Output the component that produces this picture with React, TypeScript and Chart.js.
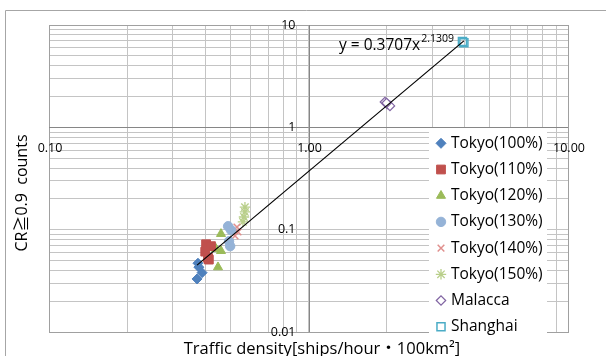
import React, { useEffect, useRef } from 'react';
import { Chart, registerables } from 'chart.js';
import { drawPoint } from 'chart.js/helpers';

Chart.register(...registerables);

// Measured points per scenario: [traffic density, CR>=0.9 counts]
const tokyo100: [number, number][] = [[0.375, 0.047], [0.378, 0.043], [0.389, 0.038], [0.372, 0.033]];
const tokyo110: [number, number][] = [[0.403, 0.072], [0.421, 0.069], [0.4, 0.061], [0.41, 0.053], [0.413, 0.051]];
const tokyo120: [number, number][] = [[0.46, 0.091], [0.44, 0.065], [0.46, 0.062], [0.448, 0.043]];
const tokyo130: [number, number][] = [[0.49, 0.108], [0.503, 0.099], [0.494, 0.077], [0.499, 0.069]];
const tokyo140: [number, number][] = [[0.53, 0.106], [0.535, 0.095], [0.521, 0.087]];
const tokyo150: [number, number][] = [[0.569, 0.166], [0.569, 0.149], [0.564, 0.133], [0.559, 0.119]];
const malacca: [number, number][] = [[1.97, 1.77], [2.01, 1.69], [2.06, 1.62], [2.0, 1.73]];
const shanghai: [number, number][] = [[3.92, 6.9], [3.97, 6.7]];

const seriesNames = ['Tokyo(100%)', 'Tokyo(110%)', 'Tokyo(120%)', 'Tokyo(130%)', 'Tokyo(140%)', 'Tokyo(150%)', 'Malacca', 'Shanghai'];

// Power trend line y = a * x^b
const trendA = 0.3707;
const trendB = 2.1309;

// Axis decades and their labels
const xDecades = [0.1, 1, 10];
const xTickLabels = ['0.10', '1.00', '10.00'];
const yDecades = [0.01, 0.1, 1, 10];
const yTickLabels = ['0.01', '0.1', '1', '10'];
const minorSteps = [1, 2, 3, 4, 5, 6, 7, 8, 9];

const xTitle = 'Traffic density[ships/hour・100km²]';
const yTitle = 'CR≧0.9  counts';

const FONT = "'Open Sans', 'Noto Sans CJK JP', sans-serif";

type MarkerStyle = {
  pointStyle: string;
  radius: number;
  fill: string;
  stroke: string;
  borderWidth: number;
};

const markerStyles: MarkerStyle[] = [
  { pointStyle: 'rectRot', radius: 5, fill: '#4F81BD', stroke: '#4F81BD', borderWidth: 1 },
  { pointStyle: 'rect', radius: 6.2, fill: '#C0504D', stroke: '#C0504D', borderWidth: 1 },
  { pointStyle: 'triangle', radius: 5.2, fill: '#9BBB59', stroke: '#9BBB59', borderWidth: 1 },
  { pointStyle: 'circle', radius: 4.7, fill: '#95B3D7', stroke: '#95B3D7', borderWidth: 1 },
  { pointStyle: 'crossRot', radius: 4.7, fill: 'rgba(0,0,0,0)', stroke: '#E0908E', borderWidth: 1.5 },
  { pointStyle: 'star', radius: 5.2, fill: 'rgba(0,0,0,0)', stroke: '#B9CF8A', borderWidth: 1.3 },
  { pointStyle: 'rectRot', radius: 4.7, fill: '#FFFFFF', stroke: '#8064A2', borderWidth: 1.2 },
  { pointStyle: 'rect', radius: 5.7, fill: 'rgba(255,255,255,0)', stroke: '#4BACC6', borderWidth: 1.5 },
];

const allSeries = [tokyo100, tokyo110, tokyo120, tokyo130, tokyo140, tokyo150, malacca, shanghai];

function gridValues(decades: number[]): number[] {
  const out: number[] = [];
  for (let i = 0; i < decades.length - 1; i++) {
    for (const m of minorSteps) out.push(Number((decades[i] * m).toPrecision(6)));
  }
  out.push(decades[decades.length - 1]);
  return out;
}

const xGrid = gridValues(xDecades);
const yGrid = gridValues(yDecades);

const allX = allSeries.flat().map((p) => p[0]);
const trendX = [Math.min(...allX), Math.max(...allX)];
const trendPoints = trendX.map((x) => ({ x, y: trendA * Math.pow(x, trendB) }));

const decorPlugin = {
  id: 'decor',
  beforeDraw(chart: any) {
    const { ctx, width, height } = chart;
    ctx.save();
    ctx.fillStyle = '#FFFFFF';
    ctx.fillRect(0, 0, width, height);
    // outer chart frame
    ctx.strokeStyle = '#A6A6A6';
    ctx.lineWidth = 1;
    ctx.beginPath();
    ctx.moveTo(5.5, height + 2);
    ctx.lineTo(5.5, 10.5);
    ctx.lineTo(width + 2, 10.5);
    ctx.stroke();
    ctx.restore();
  },
  beforeDatasetsDraw(chart: any) {
    const { ctx, chartArea, scales } = chart;
    const xs = scales.x;
    const ys = scales.y;
    ctx.save();
    // plot frame
    ctx.strokeStyle = '#A0A0A0';
    ctx.lineWidth = 1;
    ctx.strokeRect(
      Math.round(chartArea.left) + 0.5,
      Math.round(chartArea.top) + 0.5,
      Math.round(chartArea.right - chartArea.left),
      Math.round(chartArea.bottom - chartArea.top)
    );
    // axes crossing at (1, 1)
    const ax = Math.round(xs.getPixelForValue(1)) + 0.5;
    const ay = Math.round(ys.getPixelForValue(1)) + 0.5;
    ctx.strokeStyle = '#868686';
    ctx.beginPath();
    ctx.moveTo(ax, chartArea.top);
    ctx.lineTo(ax, chartArea.bottom);
    ctx.moveTo(chartArea.left, ay);
    ctx.lineTo(chartArea.right, ay);
    ctx.stroke();
    ctx.restore();
  },
  afterDatasetsDraw(chart: any) {
    const { ctx, scales } = chart;
    const xs = scales.x;
    const ys = scales.y;
    const ax = xs.getPixelForValue(1);
    const ay = ys.getPixelForValue(1);
    ctx.save();
    ctx.fillStyle = '#000000';

    // tick labels
    ctx.font = `12.5px ${FONT}`;
    ctx.textAlign = 'center';
    ctx.textBaseline = 'middle';
    xDecades.forEach((v, i) => {
      ctx.fillText(xTickLabels[i], xs.getPixelForValue(v) + 1, ay + 21);
    });
    ctx.textAlign = 'right';
    yDecades.forEach((v, i) => {
      ctx.fillText(yTickLabels[i], ax - 13, ys.getPixelForValue(v));
    });

    // trend equation
    const eqMain = `y = ${trendA}x`;
    ctx.textAlign = 'left';
    ctx.font = `15.5px ${FONT}`;
    const eqX = 339;
    ctx.fillText(eqMain, eqX, 46);
    const w = ctx.measureText(eqMain).width;
    ctx.font = `10.5px ${FONT}`;
    ctx.fillText(`${trendB}`, eqX + w + 1, 39);

    // legend
    const lx = 429;
    const ly = 128;
    ctx.fillStyle = '#FFFFFF';
    ctx.fillRect(lx, ly, 118, 208);
    seriesNames.forEach((name, i) => {
      const cy = ly + 15.3 + i * 26.2;
      const st = markerStyles[i];
      ctx.fillStyle = st.fill;
      ctx.strokeStyle = st.stroke;
      ctx.lineWidth = st.borderWidth;
      drawPoint(ctx, { pointStyle: st.pointStyle as any, radius: st.radius, rotation: 0, borderWidth: st.borderWidth }, lx + 12, cy);
      ctx.fillStyle = '#000000';
      ctx.font = `15.5px ${FONT}`;
      ctx.textAlign = 'left';
      ctx.textBaseline = 'middle';
      ctx.fillText(name, lx + 22, cy);
    });

    // axis titles
    ctx.fillStyle = '#000000';
    ctx.font = `16.5px ${FONT}`;
    ctx.textAlign = 'center';
    ctx.textBaseline = 'alphabetic';
    ctx.fillText(xTitle, 322, 354);
    ctx.translate(27, 193);
    ctx.rotate(-Math.PI / 2);
    ctx.font = `16px ${FONT}`;
    ctx.fillText(yTitle, 0, 0);
    ctx.restore();
  },
};

export default function App() {
  const canvasRef = useRef<HTMLCanvasElement | null>(null);

  useEffect(() => {
    document.body.style.margin = '0';
    const canvas = canvasRef.current;
    if (!canvas) return;

    const datasets: any[] = allSeries.map((series, i) => {
      const st = markerStyles[i];
      return {
        label: seriesNames[i],
        data: series.map(([x, y]) => ({ x, y })),
        pointStyle: st.pointStyle,
        pointRadius: st.radius,
        backgroundColor: st.fill,
        borderColor: st.stroke,
        pointBorderWidth: st.borderWidth,
        order: 1,
      };
    });
    datasets.push({
      label: 'trend',
      data: trendPoints,
      showLine: true,
      borderColor: '#000000',
      borderWidth: 1.2,
      pointRadius: 0,
      order: 0,
    });

    const chart = new Chart(canvas, {
      type: 'scatter',
      data: { datasets },
      plugins: [decorPlugin],
      options: {
        animation: false,
        responsive: false,
        devicePixelRatio: 1,
        layout: { padding: { left: 49, top: 25, right: 38, bottom: 24 } },
        plugins: { legend: { display: false }, tooltip: { enabled: false } },
        scales: {
          x: {
            type: 'logarithmic',
            min: xDecades[0],
            max: xDecades[xDecades.length - 1],
            afterBuildTicks: (s: any) => {
              s.ticks = xGrid.map((v) => ({ value: v }));
            },
            ticks: { display: false },
            grid: { color: '#C4C4C4', lineWidth: 1, drawTicks: false },
            border: { display: false },
          },
          y: {
            type: 'logarithmic',
            min: yDecades[0],
            max: yDecades[yDecades.length - 1],
            afterBuildTicks: (s: any) => {
              s.ticks = yGrid.map((v) => ({ value: v }));
            },
            ticks: { display: false },
            grid: { color: '#C4C4C4', lineWidth: 1, drawTicks: false },
            border: { display: false },
          },
        },
      } as any,
    });
    return () => chart.destroy();
  }, []);

  return (
    <div style={{ width: 606, height: 356 }}>
      <canvas ref={canvasRef} width={606} height={356} />
    </div>
  );
}
